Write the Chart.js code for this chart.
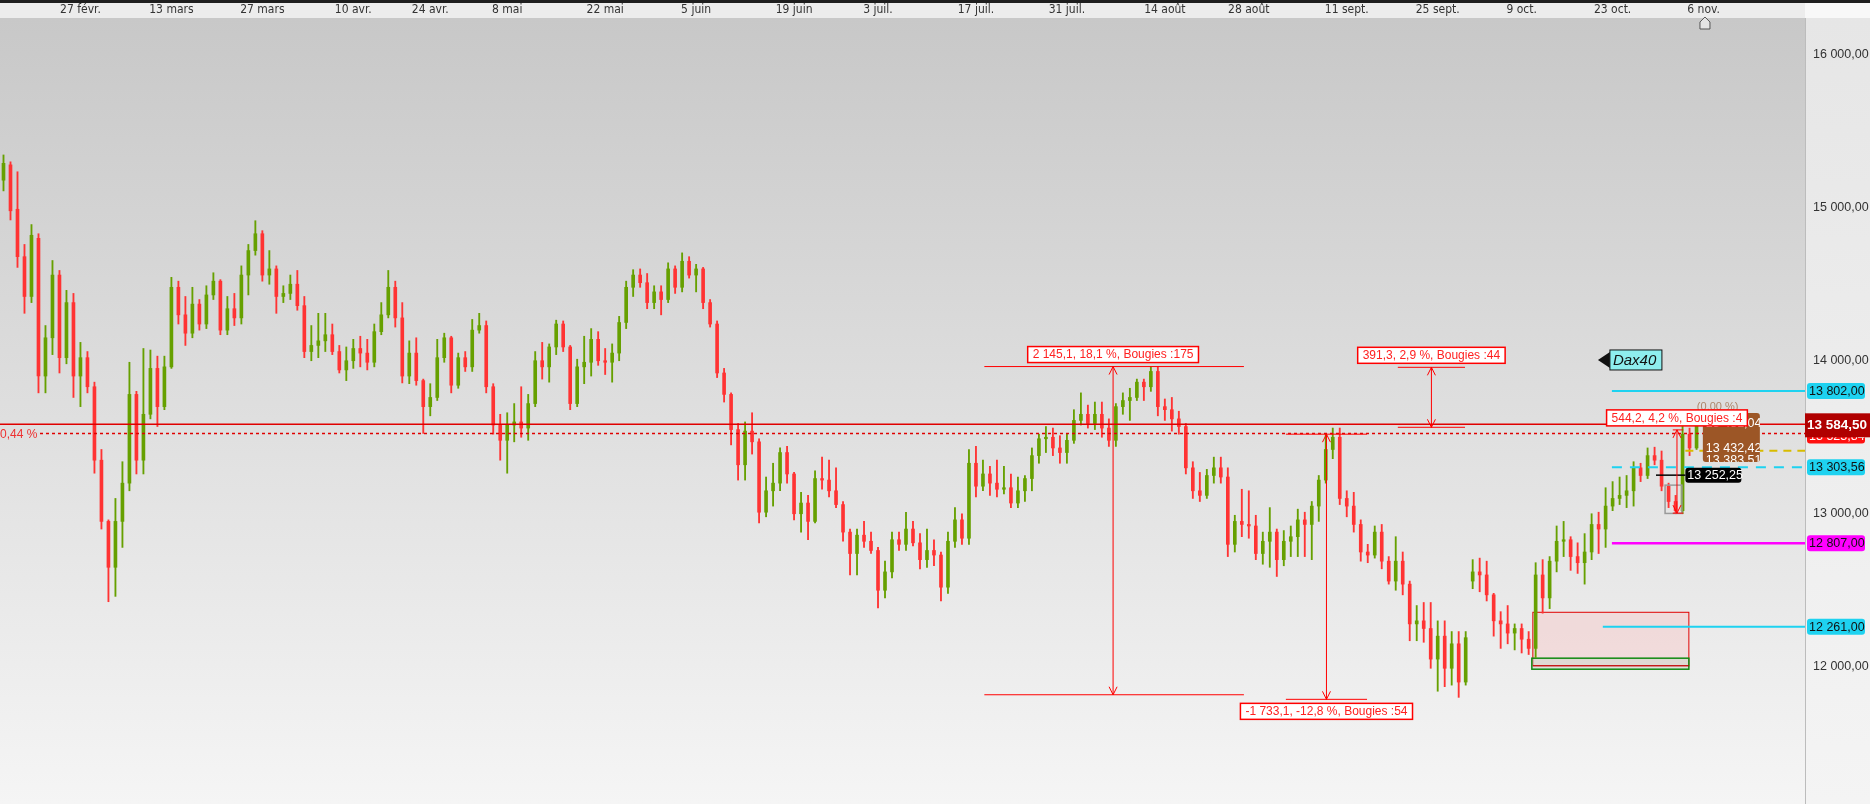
<!DOCTYPE html>
<html>
<head>
<meta charset="utf-8">
<title>Dax40</title>
<script src="https://cdn.jsdelivr.net/npm/chart.js@4.4.1/dist/chart.umd.min.js"></script>
<style>
  html, body { margin: 0; padding: 0; background: #fff; overflow: hidden; }
  #chart { display: block; }
</style>
</head>
<body>
<canvas id="chart" width="1870" height="804"></canvas>
<script>
// Date ticks along the top axis and the candle slot each one sits on
const tickLabels = ['27 févr.', '13 mars', '27 mars', '10 avr.', '24 avr.', '8 mai', '22 mai', '5 juin', '19 juin',
  '3 juil.', '17 juil.', '31 juil.', '14 août', '28 août', '11 sept.', '25 sept.', '9 oct.', '23 oct.', '6 nov.'];
const tickSlots = [11, 24, 37, 50, 61, 72, 86, 99, 113, 125, 139, 152, 166, 178, 192, 205, 217, 230, 243];
const slotCount = 258; // candles + empty room on the right
const yTicks = [12000, 13000, 14000, 15000, 16000];

// Candles (one per slot)
const opens = [
  15180, 15280, 14990, 14680, 14420, 14800, 13900, 14150, 14560, 14020,
  14380, 13900, 14020, 13830, 13350, 12950, 12650, 12950, 13200, 13780,
  13350, 13650, 13950, 13700, 13960, 14480, 14300, 14180, 14370, 14240,
  14430, 14520, 14200, 14340, 14280, 14560, 14720, 14830, 14560, 14600,
  14420, 14440, 14500, 14360, 14060, 14100, 14130, 14170, 14060, 13940,
  14000, 14080, 14050, 13990, 14190, 14300, 14480, 14280, 13900, 14050,
  13870, 13700, 13760, 14020, 14150, 13840, 14020, 13960, 14200, 14230,
  13830, 13580, 13480, 13580, 13600, 13560, 13720, 14000, 13960, 14090,
  14240, 14090, 13720, 13960, 13990, 14140, 14000, 13990, 14050, 14250,
  14480, 14560, 14510, 14380, 14450, 14400, 14600, 14480, 14650, 14560,
  14600, 14380, 14240, 13920, 13780, 13550, 13320, 13540, 13470, 13010,
  13150, 13200, 13400, 13260, 13000, 13070, 12950, 13230, 13220, 13150,
  13060, 12880, 12740, 12860, 12820, 12760, 12500, 12620, 12830, 12800,
  12900, 12810, 12700, 12760, 12730, 12520, 12820, 12960, 12840, 13330,
  13180, 13260, 13200, 13160, 13170, 13070, 13150, 13230, 13380, 13490,
  13500, 13430, 13400, 13480, 13610, 13650, 13590, 13650, 13560, 13480,
  13700, 13740, 13760, 13860, 13830, 13930, 13700, 13680, 13620, 13570,
  13300, 13150, 13120, 13250, 13300, 13240, 12800, 12950, 12930, 12920,
  12740, 12820, 12880, 12700, 12820, 12850, 12960, 12930, 13050, 13220,
  13420, 13500, 13100, 13050, 12930, 12750, 12730, 12880, 12690, 12560,
  12690, 12540, 12280, 12300, 12250, 12050, 12200, 11990, 12150, 11900,
  12560, 12620, 12600, 12470, 12300, 12280, 12220, 12250, 12180, 12120,
  12600, 12450, 12690, 12820, 12830, 12720, 12680, 12750, 12930, 12900,
  13050, 13100, 13120, 13150, 13300, 13250, 13380, 13350, 13180, 13080,
  13020, 13520, 13430
];
const highs = [
  15345, 15300, 15235, 14760, 14890, 14830, 14230, 14655, 14590, 14460,
  14440, 14120, 14060, 13860, 13420, 12960, 13100, 13340, 13990, 13800,
  14080, 14070, 14030, 14030, 14545, 14520, 14420, 14480, 14400, 14490,
  14575, 14530, 14420, 14440, 14620, 14760, 14915, 14850, 14720, 14620,
  14490, 14560, 14590, 14420, 14230, 14310, 14310, 14240, 14100, 14090,
  14140, 14160, 14140, 14240, 14380, 14590, 14520, 14380, 14130, 14150,
  13880, 13850, 14140, 14180, 14160, 14050, 14060, 14270, 14310, 14260,
  13850, 13650, 13660, 13720, 13830, 13780, 14060, 14120, 14110, 14265,
  14260, 14100, 14010, 14160, 14210, 14190, 14080, 14110, 14290, 14520,
  14595, 14600, 14570, 14490, 14490, 14640, 14620, 14705, 14680, 14630,
  14610, 14400, 14260, 13950, 13790, 13590, 13600, 13660, 13490, 13240,
  13330, 13430, 13440, 13270, 13140, 13120, 13280, 13370, 13350, 13300,
  13080, 12900, 12900, 12950, 12880, 12780, 12690, 12880, 12880, 13010,
  12950, 12870, 12900, 12830, 12750, 12880, 13040, 13000, 13420, 13440,
  13350, 13310, 13350, 13310, 13260, 13240, 13250, 13430, 13520, 13570,
  13560, 13510, 13520, 13680, 13790, 13710, 13730, 13730, 13620, 13720,
  13790, 13820, 13880, 13880, 13960, 13960, 13750, 13760, 13670, 13590,
  13340, 13270, 13290, 13370, 13370, 13300, 12990, 13160, 13150, 12990,
  12880, 13040, 12900, 12890, 12920, 13030, 13010, 13080, 13250, 13520,
  13560, 13560, 13150, 13140, 12960, 12800, 12920, 12930, 12720, 12850,
  12750, 12560, 12400, 12420, 12420, 12300, 12300, 12230, 12230, 12230,
  12700, 12710, 12690, 12480, 12360, 12400, 12280, 12280, 12230, 12680,
  12700, 12720, 12920, 12950, 12850, 12810, 12870, 13000, 13010, 13170,
  13210, 13240, 13250, 13340, 13330, 13430, 13435, 13410, 13200, 13120,
  13580, 13560, 13590
];
const lows = [
  15110, 14920, 14610, 14310, 14380, 13790, 13790, 14040, 13920, 13980,
  13760, 13700, 13790, 13265, 12900, 12425, 12460, 12780, 13150, 13260,
  13260, 13620, 13570, 13680, 13950, 14240, 14100, 14150, 14200, 14210,
  14400, 14170, 14170, 14230, 14240, 14430, 14690, 14520, 14500, 14310,
  14380, 14400, 14330, 14020, 14000, 14020, 14060, 14040, 13920, 13870,
  13950, 13960, 13940, 13960, 14170, 14280, 14220, 13855, 13850, 13840,
  13525, 13640, 13740, 13990, 13790, 13820, 13930, 13930, 14180, 13790,
  13520, 13350, 13265, 13470, 13500, 13480, 13700, 13880, 13860, 14040,
  14060, 13680, 13700, 13850, 13900, 13970, 13910, 13860, 14000, 14210,
  14420, 14480, 14340, 14340, 14300, 14380, 14440, 14450, 14540, 14450,
  14340, 14220, 13890, 13730, 13450, 13220, 13220, 13390, 12940, 12980,
  13050, 13150, 13200, 12960, 12880, 12830, 12940, 13160, 13110, 13040,
  12820, 12600, 12600, 12780, 12740, 12385, 12450, 12580, 12760, 12760,
  12790, 12640, 12650, 12660, 12430, 12480, 12780, 12800, 12800, 13110,
  13150, 13120, 13110, 13130, 13040, 13040, 13080, 13150, 13330, 13400,
  13380, 13330, 13330, 13460, 13580, 13560, 13550, 13500, 13440, 13440,
  13650, 13610, 13740, 13740, 13800, 13640, 13610, 13540, 13520, 13260,
  13100, 13080, 13100, 13200, 13200, 12720, 12750, 12850, 12840, 12700,
  12670, 12650, 12590, 12660, 12720, 12720, 12720, 12700, 12950, 13200,
  13360, 13060, 12980, 12880, 12690, 12680, 12710, 12640, 12540, 12500,
  12470, 12170, 12170, 12160, 11990, 11840, 11870, 11880, 11800, 11880,
  12510, 12490, 12430, 12200, 12120, 12150, 12110, 12090, 12080, 12060,
  12350, 12380, 12620, 12720, 12630, 12610, 12540, 12700, 12740, 12780,
  13020, 13060, 13040, 13050, 13210, 13230, 13320, 13150, 13040, 13000,
  13000, 13380, 13420
];
const closes = [
  15290, 14980, 14680, 14420, 14820, 13900, 14150, 14560, 14020, 14380,
  13900, 14020, 13830, 13350, 12950, 12650, 12950, 13200, 13780, 13350,
  13650, 13950, 13700, 13960, 14480, 14300, 14180, 14370, 14240, 14430,
  14520, 14200, 14340, 14280, 14560, 14720, 14830, 14560, 14600, 14420,
  14440, 14500, 14360, 14060, 14100, 14130, 14170, 14060, 13940, 14000,
  14080, 14050, 13990, 14190, 14300, 14480, 14280, 13900, 14050, 13870,
  13700, 13760, 14020, 14150, 13840, 14020, 13960, 14200, 14230, 13830,
  13580, 13480, 13580, 13600, 13560, 13720, 14000, 13960, 14090, 14240,
  14090, 13720, 13960, 13990, 14140, 14000, 13990, 14050, 14250, 14480,
  14560, 14510, 14380, 14450, 14400, 14600, 14480, 14650, 14560, 14600,
  14380, 14240, 13920, 13780, 13550, 13320, 13540, 13470, 13010, 13150,
  13200, 13400, 13260, 13000, 13070, 12950, 13230, 13220, 13150, 13060,
  12880, 12740, 12860, 12820, 12760, 12500, 12620, 12830, 12800, 12900,
  12810, 12700, 12760, 12730, 12520, 12820, 12960, 12840, 13330, 13180,
  13260, 13200, 13160, 13170, 13070, 13150, 13230, 13380, 13490, 13500,
  13430, 13400, 13480, 13610, 13650, 13590, 13650, 13560, 13480, 13700,
  13740, 13760, 13860, 13830, 13930, 13700, 13680, 13620, 13570, 13300,
  13150, 13120, 13250, 13300, 13240, 12800, 12950, 12930, 12920, 12740,
  12820, 12880, 12700, 12820, 12850, 12960, 12930, 13050, 13220, 13420,
  13500, 13100, 13050, 12930, 12750, 12730, 12880, 12690, 12560, 12690,
  12540, 12280, 12300, 12250, 12050, 12200, 11990, 12150, 11900, 12190,
  12620, 12600, 12470, 12300, 12280, 12220, 12250, 12180, 12120, 12600,
  12450, 12690, 12820, 12830, 12720, 12680, 12750, 12930, 12900, 13050,
  13100, 13120, 13150, 13300, 13250, 13380, 13350, 13180, 13080, 13020,
  13520, 13430, 13584.5
];

// Price levels drawn on the chart
const lastPrice = 13584.5;
const refPrice = 13523.84;
const levelR1 = 13802;
const levelS1 = 13303.56;
const levelPivot = 12807;
const levelS2 = 12261;
const levelYellow = 13412;
const levelBlack = 13252.25;

// Measurement tools: slot range, arrow slot, top/bottom price, caption
const measures = [
  { from: 140.2, to: 177.3, at: 158.6, hi: 13962, lo: 11817, text: '2 145,1, 18,1 %, Bougies :175', below: false },
  { from: 183.3, to: 194.9, at: 189.1, hi: 13520, lo: 11787, text: '-1 733,1, -12,8 %, Bougies :54', below: true },
  { from: 199.3, to: 208.9, at: 204.1, hi: 13957, lo: 13565, text: '391,3, 2,9 %, Bougies :44', below: false },
  { from: 238.6, to: 240.1, at: 239.2, hi: 13548, lo: 13004, text: '544,2, 4,2 %, Bougies :4', below: false }
];

const GREEN = '#66a000';
const RED = '#ff3333';
const CYAN = '#1ed2f0';
const FONT = "'Liberation Sans', Arial, sans-serif";

function fr(v, d) {
  const parts = Math.abs(v).toFixed(d).split('.');
  const int = parts[0].replace(/\B(?=(\d{3})+(?!\d))/g, ' ');
  return (v < 0 ? '-' : '') + int + (d ? ',' + parts[1] : '');
}

function roundRect(ctx, x, y, w, h, r) {
  ctx.beginPath();
  ctx.moveTo(x + r, y);
  ctx.arcTo(x + w, y, x + w, y + h, r);
  ctx.arcTo(x + w, y + h, x, y + h, r);
  ctx.arcTo(x, y + h, x, y, r);
  ctx.arcTo(x, y, x + w, y, r);
  ctx.closePath();
}

function hline(ctx, x1, x2, y, color, width, dash) {
  ctx.save();
  ctx.strokeStyle = color;
  ctx.lineWidth = width;
  ctx.setLineDash(dash || []);
  ctx.beginPath();
  ctx.moveTo(x1, y);
  ctx.lineTo(x2, y);
  ctx.stroke();
  ctx.restore();
}

function tag(ctx, y, text, bg, fg) {
  ctx.save();
  ctx.fillStyle = bg;
  roundRect(ctx, 1807, y - 8, 58, 16, 3);
  ctx.fill();
  ctx.fillStyle = fg;
  ctx.font = '12.5px ' + FONT;
  ctx.textBaseline = 'middle';
  ctx.textAlign = 'left';
  ctx.fillText(text, 1809, y + 0.5);
  ctx.restore();
}

const backdrop = {
  id: 'backdrop',
  beforeDraw(chart) {
    const { ctx, chartArea: a, width, height } = chart;
    ctx.save();
    ctx.fillStyle = '#ececec';
    ctx.fillRect(0, 0, width, a.top);
    ctx.fillStyle = '#f8f8f8';
    ctx.fillRect(a.right, 0, width - a.right, a.top);
    ctx.fillStyle = '#1e1e1e';
    ctx.fillRect(0, 0, width, 3);
    let g = ctx.createLinearGradient(0, a.top, 0, height);
    g.addColorStop(0, '#c8c8c8');
    g.addColorStop(1, '#f5f5f5');
    ctx.fillStyle = g;
    ctx.fillRect(a.left, a.top, a.right - a.left, height - a.top);
    g = ctx.createLinearGradient(0, a.top, 0, height);
    g.addColorStop(0, '#e6e6e6');
    g.addColorStop(1, '#f4f4f4');
    ctx.fillStyle = g;
    ctx.fillRect(a.right, a.top, width - a.right, height - a.top);
    ctx.restore();
  },
  beforeDatasetsDraw(chart) {
    const { ctx } = chart;
    const x = chart.scales.x, y = chart.scales.y;
    // demand zone
    const zx1 = x.getPixelForValue(218.6), zx2 = x.getPixelForValue(240.9);
    const zTop = y.getPixelForValue(12356), zBot = y.getPixelForValue(12005);
    const gTop = y.getPixelForValue(12056), gBot = y.getPixelForValue(11984);
    ctx.save();
    ctx.fillStyle = 'rgba(255, 175, 175, 0.28)';
    ctx.fillRect(zx1, zTop, zx2 - zx1, zBot - zTop);
    ctx.strokeStyle = '#e00000';
    ctx.lineWidth = 1;
    ctx.strokeRect(zx1, zTop, zx2 - zx1, zBot - zTop);
    ctx.fillStyle = 'rgba(200, 215, 200, 0.45)';
    ctx.fillRect(zx1 - 1, gTop, zx2 - zx1 + 1, gBot - gTop);
    ctx.strokeStyle = '#108a10';
    ctx.lineWidth = 1.5;
    ctx.strokeRect(zx1 - 1, gTop, zx2 - zx1 + 1, gBot - gTop);
    ctx.restore();
    hline(ctx, zx1, zx2, y.getPixelForValue(12007), '#c00000', 1);
  },
  afterDatasetsDraw(chart) {
    const { ctx, chartArea: a } = chart;
    const x = chart.scales.x, y = chart.scales.y;
    const right = a.right;

    hline(ctx, a.left, right, y.getPixelForValue(lastPrice), '#e00000', 1.5);
    hline(ctx, 40, right, y.getPixelForValue(refPrice), '#e00000', 1.5, [3, 3]);
    ctx.save();
    ctx.fillStyle = '#ee3030';
    ctx.font = '12px ' + FONT;
    ctx.textBaseline = 'middle';
    ctx.fillText('0,44 %', 0, y.getPixelForValue(refPrice) + 1);
    ctx.restore();

    hline(ctx, x.getPixelForValue(229.9), right, y.getPixelForValue(levelR1), CYAN, 2);
    hline(ctx, x.getPixelForValue(229.9), right, y.getPixelForValue(levelS1), CYAN, 2, [10, 8]);
    hline(ctx, x.getPixelForValue(229.9), right, y.getPixelForValue(levelPivot), '#ff00ff', 2.5);
    hline(ctx, x.getPixelForValue(228.6), right, y.getPixelForValue(levelS2), CYAN, 2);
    hline(ctx, x.getPixelForValue(240.4), right, y.getPixelForValue(levelYellow), '#d8bc00', 2, [8, 6]);
    hline(ctx, x.getPixelForValue(236.2), x.getPixelForValue(240.4), y.getPixelForValue(levelBlack), '#000', 1.5);

    // grey selection box
    ctx.save();
    ctx.strokeStyle = '#9a9a9a';
    ctx.lineWidth = 1.5;
    const gx = x.getPixelForValue(237.5), gy = y.getPixelForValue(13187);
    ctx.strokeRect(gx, gy, x.getPixelForValue(239.9) - gx, y.getPixelForValue(13002) - gy);
    ctx.restore();

    // measurement lines and arrows
    ctx.save();
    ctx.strokeStyle = '#ff0000';
    ctx.lineWidth = 1;
    for (const m of measures) {
      const x1 = x.getPixelForValue(m.from), x2 = x.getPixelForValue(m.to), ax = x.getPixelForValue(m.at);
      const yh = y.getPixelForValue(m.hi), yl = y.getPixelForValue(m.lo);
      ctx.beginPath();
      ctx.moveTo(x1, yh); ctx.lineTo(x2, yh);
      ctx.moveTo(x1, yl); ctx.lineTo(x2, yl);
      ctx.moveTo(ax, yh); ctx.lineTo(ax, yl);
      ctx.moveTo(ax - 4, yh + 8); ctx.lineTo(ax, yh); ctx.lineTo(ax + 4, yh + 8);
      ctx.moveTo(ax - 4, yl - 8); ctx.lineTo(ax, yl); ctx.lineTo(ax + 4, yl - 8);
      ctx.stroke();
    }
    ctx.restore();

    // brown value box
    ctx.save();
    const bx = x.getPixelForValue(242.9), by = y.getPixelForValue(13658);
    const bh = y.getPixelForValue(13338) - by;
    ctx.fillStyle = '#9c5626';
    roundRect(ctx, bx, by, 57, bh, 3);
    ctx.fill();
    ctx.clip();
    ctx.fillStyle = '#fff';
    ctx.font = '12.5px ' + FONT;
    ctx.textBaseline = 'middle';
    ctx.fillText('13 481,04', bx + 3, by + 10);
    ctx.fillText('13 432,42', bx + 3, by + 35);
    ctx.fillText('13 383,51', bx + 3, by + 47);
    ctx.restore();
    ctx.save();
    ctx.fillStyle = 'rgba(150, 95, 55, 0.7)';
    ctx.font = '11px ' + FONT;
    ctx.textBaseline = 'middle';
    ctx.fillText('(0,00 %)', bx - 6, by - 6);
    ctx.restore();

    // measurement captions
    ctx.save();
    ctx.font = '12px ' + FONT;
    ctx.textBaseline = 'middle';
    ctx.textAlign = 'center';
    for (const m of measures) {
      const ax = x.getPixelForValue(m.at);
      const w = ctx.measureText(m.text).width + 10;
      const top = m.below ? y.getPixelForValue(m.lo) + 4 : y.getPixelForValue(m.hi) - 20;
      ctx.fillStyle = '#fff';
      ctx.fillRect(ax - w / 2, top, w, 16);
      ctx.strokeStyle = '#ff0000';
      ctx.lineWidth = 1.5;
      ctx.strokeRect(ax - w / 2, top, w, 16);
      ctx.fillStyle = '#ff2020';
      ctx.fillText(m.text, ax, top + 8.5);
    }
    ctx.restore();

    // instrument label
    ctx.save();
    const lx = x.getPixelForValue(227.9), ly = y.getPixelForValue(14005);
    ctx.fillStyle = '#111';
    ctx.beginPath();
    ctx.moveTo(lx, ly); ctx.lineTo(lx + 12, ly - 8); ctx.lineTo(lx + 12, ly + 8); ctx.closePath();
    ctx.fill();
    ctx.fillStyle = '#8eeeee';
    ctx.fillRect(lx + 12, ly - 10, 52, 20);
    ctx.strokeStyle = '#111';
    ctx.lineWidth = 1;
    ctx.strokeRect(lx + 12, ly - 10, 52, 20);
    ctx.fillStyle = '#111';
    ctx.font = 'italic 15px ' + FONT;
    ctx.textBaseline = 'middle';
    ctx.fillText('Dax40', lx + 15, ly + 1);
    ctx.restore();

    // black price label
    ctx.save();
    const kx = x.getPixelForValue(240.4), ky = y.getPixelForValue(levelBlack);
    ctx.fillStyle = '#000';
    roundRect(ctx, kx, ky - 7.5, 56, 15, 3);
    ctx.fill();
    ctx.fillStyle = '#fff';
    ctx.font = '12.5px ' + FONT;
    ctx.textBaseline = 'middle';
    ctx.fillText(fr(levelBlack, 2), kx + 2, ky + 0.5);
    ctx.restore();
  },
  afterDraw(chart) {
    const { ctx } = chart;
    const x = chart.scales.x, y = chart.scales.y;
    tag(ctx, y.getPixelForValue(levelR1), fr(levelR1, 2), CYAN, '#111');
    tag(ctx, y.getPixelForValue(levelS1), fr(levelS1, 2), CYAN, '#111');
    tag(ctx, y.getPixelForValue(levelPivot), fr(levelPivot, 2), '#ff00ff', '#111');
    tag(ctx, y.getPixelForValue(levelS2), fr(levelS2, 2), CYAN, '#111');
    tag(ctx, y.getPixelForValue(refPrice) + 2, fr(refPrice, 2), '#ff1010', '#fff');

    // last price tag, partly covering the reference tag
    const py = y.getPixelForValue(lastPrice);
    ctx.save();
    ctx.fillStyle = '#b00000';
    ctx.fillRect(1805, py - 11, 65, 24);
    ctx.fillStyle = '#fff';
    ctx.font = 'bold 13.5px ' + FONT;
    ctx.textBaseline = 'middle';
    ctx.fillText(fr(lastPrice, 2), 1807, py + 1);
    ctx.restore();

    // current-time marker on the date axis
    const mx = x.getPixelForValue(243.2);
    ctx.save();
    ctx.fillStyle = '#e4e4e4';
    ctx.strokeStyle = '#555';
    ctx.lineWidth = 1;
    ctx.beginPath();
    ctx.moveTo(mx - 5, 29); ctx.lineTo(mx - 5, 22); ctx.lineTo(mx, 17); ctx.lineTo(mx + 5, 22); ctx.lineTo(mx + 5, 29);
    ctx.closePath();
    ctx.fill();
    ctx.stroke();
    ctx.restore();
  }
};

const slots = Array.from({ length: slotCount }, (_, i) => String(i));
const candleColors = closes.map((c, i) => (c >= opens[i] ? GREEN : RED));

Chart.defaults.font.family = FONT;

new Chart(document.getElementById('chart'), {
  type: 'bar',
  data: {
    labels: slots,
    datasets: [
      {
        label: 'Corps',
        data: closes.map((c, i) => [opens[i], c]),
        backgroundColor: candleColors,
        borderWidth: 0,
        barThickness: 3,
        minBarLength: 1,
        grouped: false
      },
      {
        label: 'Mèches',
        data: lows.map((l, i) => [l, highs[i]]),
        backgroundColor: candleColors,
        borderWidth: 0,
        barThickness: 1.2,
        grouped: false
      }
    ]
  },
  options: {
    responsive: false,
    animation: false,
    devicePixelRatio: 1,
    layout: { padding: 0 },
    plugins: { legend: { display: false }, tooltip: { enabled: false } },
    scales: {
      x: {
        type: 'category',
        position: 'top',
        offset: true,
        grid: { display: false, drawTicks: false },
        border: { display: false },
        ticks: {
          autoSkip: false,
          maxRotation: 0,
          minRotation: 0,
          padding: 1,
          color: '#333',
          font: { family: "'Liberation Sans Narrow', 'DejaVu Sans Condensed', 'Liberation Sans', sans-serif", size: 12 },
          callback: (v, i) => {
            const k = tickSlots.indexOf(i);
            return k < 0 ? '' : tickLabels[k];
          }
        },
        afterFit: s => { s.height = 18; s.paddingLeft = 0; s.paddingRight = 0; }
      },
      y: {
        position: 'right',
        min: 11103,
        max: 16240,
        grid: { display: false, drawTicks: false },
        border: { display: true, color: '#bcbcbc' },
        afterBuildTicks: s => { s.ticks = yTicks.map(v => ({ value: v })); },
        afterFit: s => { s.width = 65; s.paddingTop = 0; s.paddingBottom = 0; },
        ticks: {
          padding: 8,
          color: '#333',
          font: { size: 12.5 },
          callback: v => fr(v, 2)
        }
      }
    }
  },
  plugins: [backdrop]
});
</script>
</body>
</html>
